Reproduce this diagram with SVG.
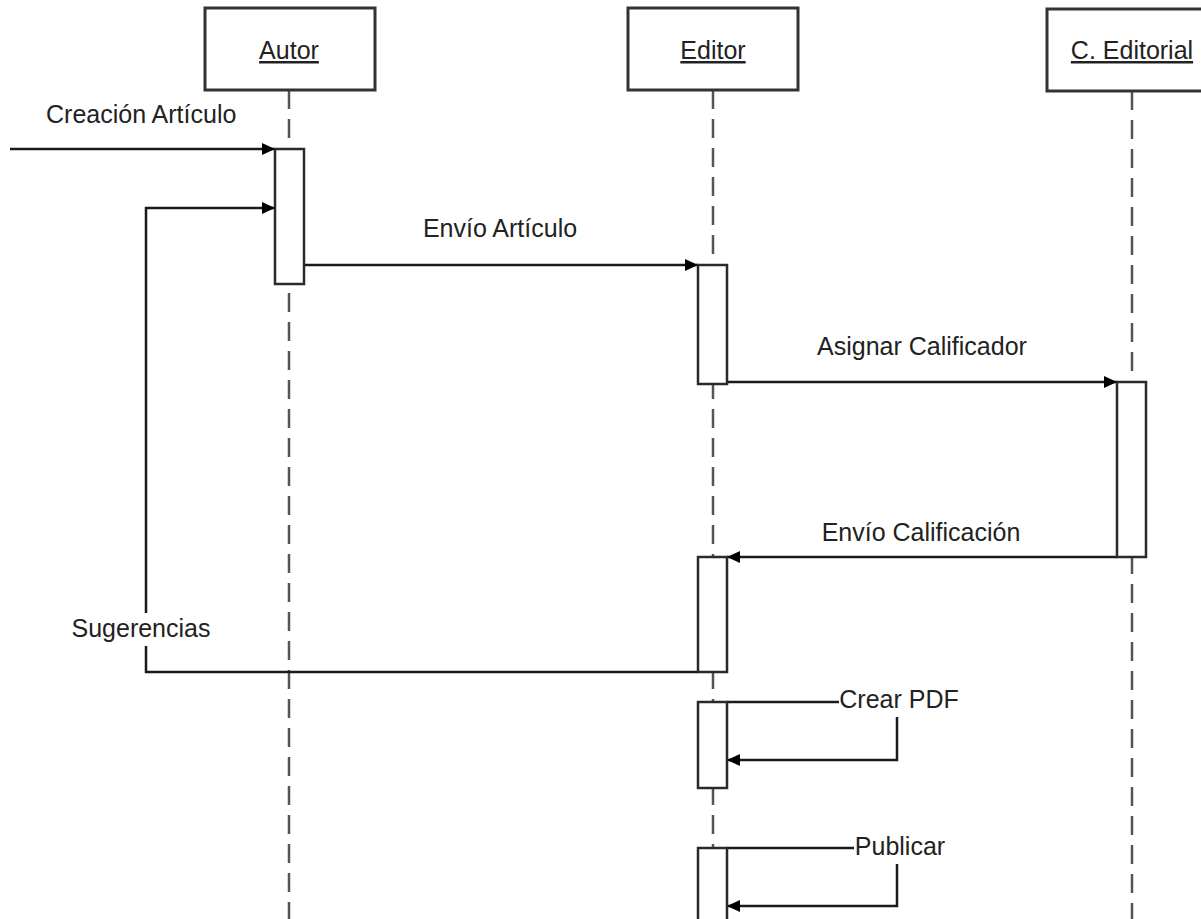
<svg xmlns="http://www.w3.org/2000/svg" width="1201" height="919" viewBox="0 0 1201 919">
<style>
  .hdr { fill: #ffffff; stroke: #333333; stroke-width: 3; }
  .life { fill: none; stroke: #555555; stroke-width: 2.5; stroke-dasharray: 19 10; }
  .act { fill: #ffffff; stroke: #2a2a2a; stroke-width: 2.5; }
  .msg { fill: none; stroke: #1a1a1a; stroke-width: 2.5; marker-end: url(#arrow); }
  .seg { fill: none; stroke: #1a1a1a; stroke-width: 2.5; }
  .txt { font-family: "Liberation Sans", Arial, sans-serif; font-size: 25px; fill: #222222; }
  .name { text-decoration: underline; text-anchor: middle; }
  .lbl { text-anchor: middle; }
  .mask { fill: #ffffff; stroke: none; }
</style>
<defs>
  <marker id="arrow" markerUnits="userSpaceOnUse" markerWidth="14" markerHeight="14" refX="13" refY="6" orient="auto">
    <path d="M0,0 L13,6 L0,12 Z" fill="#000000"/>
  </marker>
</defs>
<rect x="0" y="0" width="1201" height="919" fill="#ffffff"/>

<g id="lifelines">
  <line class="life" x1="289" y1="90" x2="289" y2="919"/>
  <line class="life" x1="713" y1="90" x2="713" y2="919"/>
  <line class="life" x1="1132" y1="91" x2="1132" y2="919"/>
</g>

<g id="node-autor">
  <rect class="hdr" x="205" y="8" width="170" height="82"/>
  <text class="txt name" x="289" y="59">Autor</text>
</g>
<g id="node-editor">
  <rect class="hdr" x="628" y="8" width="170" height="82"/>
  <text class="txt name" x="713" y="59">Editor</text>
</g>
<g id="node-comite">
  <rect class="hdr" x="1047" y="9" width="170" height="82"/>
  <text class="txt name" x="1132" y="59">C. Editorial</text>
</g>

<g id="connectors">
  <g id="msg-creacion">
    <path class="msg" d="M10,149 L275,149"/>
    <text class="txt" x="46" y="123">Creación Artículo</text>
  </g>
  <g id="msg-sugerencias">
    <path class="msg" d="M698,672 L146,672 L146,208 L275,208"/>
    <rect class="mask" x="70" y="613" width="142" height="33"/>
    <text class="txt lbl" x="141" y="637">Sugerencias</text>
  </g>
  <g id="msg-envio-articulo">
    <path class="msg" d="M304,265 L698,265"/>
    <text class="txt lbl" x="500" y="237">Envío Artículo</text>
  </g>
  <g id="msg-asignar">
    <path class="msg" d="M727,382 L1117,382"/>
    <text class="txt lbl" x="922" y="355">Asignar Calificador</text>
  </g>
  <g id="msg-envio-calificacion">
    <path class="msg" d="M1117,557 L727,557"/>
    <text class="txt lbl" x="921" y="541">Envío Calificación</text>
  </g>
  <g id="msg-crear-pdf">
    <path class="msg" d="M727,702 L897,702 L897,760 L727,760"/>
    <rect class="mask" x="839" y="686" width="121" height="31"/>
    <text class="txt lbl" x="899" y="708">Crear PDF</text>
  </g>
  <g id="msg-publicar">
    <path class="msg" d="M727,848 L897,848 L897,906 L727,906"/>
    <rect class="mask" x="854" y="833" width="93" height="31"/>
    <text class="txt lbl" x="900" y="855">Publicar</text>
  </g>
</g>

<g id="activations">
  <g id="act-autor"><rect class="act" x="275" y="149" width="29" height="135"/></g>
  <g id="act-editor-1"><rect class="act" x="698" y="265" width="29" height="119"/></g>
  <g id="act-comite"><rect class="act" x="1117" y="382" width="29" height="175"/></g>
  <g id="act-editor-2"><rect class="act" x="698" y="557" width="29" height="115"/></g>
  <g id="act-editor-3"><rect class="act" x="698" y="702" width="29" height="86"/></g>
  <g id="act-editor-4"><rect class="act" x="698" y="848" width="29" height="90"/></g>
</g>
</svg>
